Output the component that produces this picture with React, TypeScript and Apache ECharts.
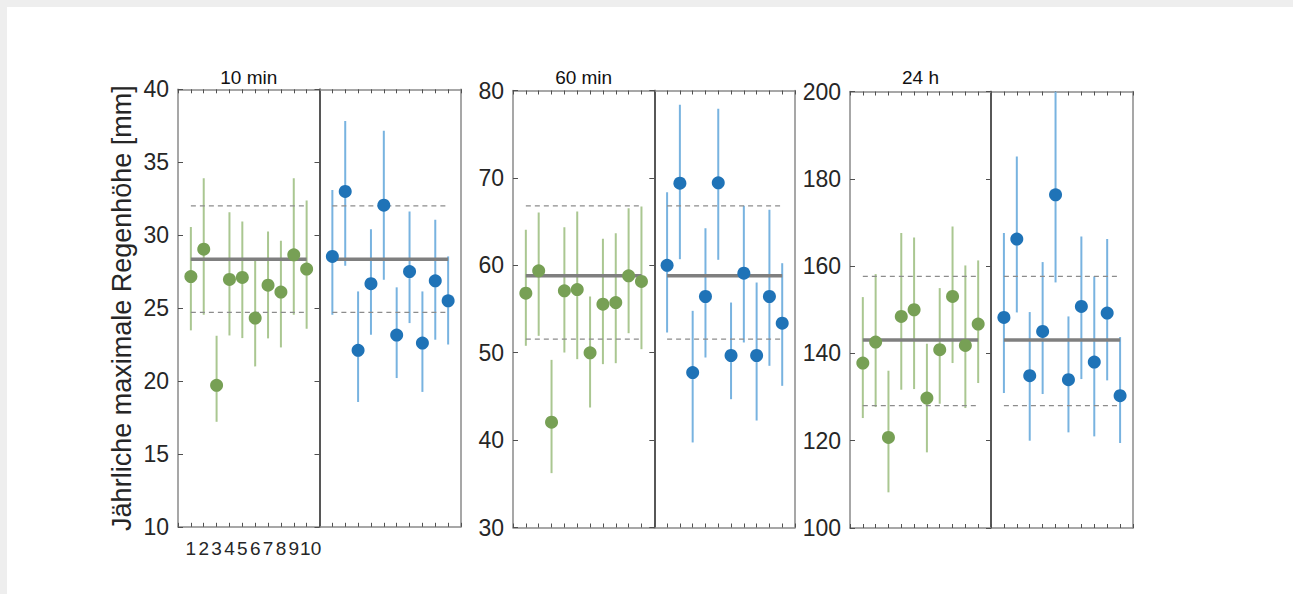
import React, { useEffect, useRef } from "react";
import * as echarts from "echarts";

// ---- data ----
const stationLabels = ["1", "2", "3", "4", "5", "6", "7", "8", "9", "10"];
const leftPositions = [1, 2, 3, 4, 5, 6, 7, 8, 9, 10];
const rightPositions = [12, 13, 14, 15, 16, 17, 18, 19, 20, 21];

const panelTitles = ["10 min", "60 min", "24 h"];
const yMins = [10, 30, 100];
const yMaxs = [40, 80, 200];
const yIntervals = [5, 10, 20];

// mean, upper dashed, lower dashed
const refMean = [28.34, 58.8, 143.05];
const refUpper = [32.0, 66.8, 157.63];
const refLower = [24.7, 51.55, 128.02];

// 10 min
const g10Val = [27.16, 29.04, 19.7, 26.96, 27.1, 24.31, 26.57, 26.1, 28.65, 27.67];
const g10Lo = [23.47, 24.54, 17.2, 23.12, 22.94, 21.0, 22.92, 22.3, 24.54, 23.58];
const g10Hi = [30.55, 33.9, 23.1, 31.57, 30.93, 28.24, 30.25, 29.61, 33.9, 32.37];
const b10Val = [28.54, 33.0, 22.1, 26.67, 32.05, 23.15, 27.5, 22.6, 26.87, 25.5];
const b10Lo = [24.54, 27.9, 18.56, 23.17, 26.94, 20.2, 23.97, 19.25, 22.83, 22.5];
const b10Hi = [33.1, 37.83, 26.14, 30.41, 37.15, 26.42, 31.62, 26.14, 31.05, 28.54];

// 60 min
const g60Val = [56.81, 59.37, 42.05, 57.08, 57.23, 49.98, 55.55, 55.74, 58.8, 58.15];
const g60Lo = [50.79, 51.93, 36.22, 50.02, 49.26, 43.73, 48.69, 48.8, 52.23, 50.4];
const g60Hi = [64.06, 66.04, 49.18, 64.36, 66.16, 56.43, 63.03, 63.68, 66.54, 66.73];
const b60Val = [60.0, 69.4, 47.73, 56.43, 69.44, 49.68, 59.1, 49.68, 56.43, 53.38];
const b60Lo = [52.31, 60.7, 39.73, 49.45, 60.63, 44.68, 51.17, 42.24, 48.5, 46.21];
const b60Hi = [68.37, 78.36, 54.79, 64.25, 77.9, 55.74, 66.8, 58.03, 66.35, 60.24];

// 24 h
const g24Val = [137.79, 142.6, 120.76, 148.47, 150.0, 129.77, 140.84, 153.05, 141.83, 146.72];
const g24Lo = [125.19, 127.71, 108.17, 131.68, 131.83, 117.33, 128.47, 137.79, 127.48, 133.21];
const g24Hi = [152.9, 158.17, 136.03, 167.56, 166.56, 142.21, 154.96, 169.08, 160.15, 161.3];
const b24Val = [148.24, 166.18, 134.89, 145.04, 176.34, 133.97, 150.76, 138.02, 149.24, 130.31];
const b24Lo = [130.92, 149.39, 120.0, 130.69, 156.26, 121.91, 134.12, 120.99, 133.82, 119.47];
const b24Hi = [167.56, 185.11, 149.47, 160.92, 200.0, 148.47, 166.79, 157.63, 166.18, 143.74];

const yTitle = "Jährliche maximale Regenhöhe [mm]";

// ---- styles / layout ----
const FONT = "Liberation Sans, Arial, Helvetica, sans-serif";
const GREEN = "#77a055";
const GREEN_ERR = "#aac791";
const BLUE = "#1f73b7";
const BLUE_ERR = "#78b3e0";
const FRAME = "#8a8a8a";
const DIVIDER = "#4d4d4d";
const TICK = "#505050";
const TXT = "#262626";

const panelLeft = [178, 513, 850];
const panelDiv = [319.5, 654.3, 991];
const panelRight = [461, 795, 1133];
const panelTop = [89.3, 90.5, 91.5];
const panelBottom = [526.8, 527.5, 528];

const groups = [
  { gv: g10Val, gl: g10Lo, gh: g10Hi, bv: b10Val, bl: b10Lo, bh: b10Hi },
  { gv: g60Val, gl: g60Lo, gh: g60Hi, bv: b60Val, bl: b60Lo, bh: b60Hi },
  { gv: g24Val, gl: g24Lo, gh: g24Hi, bv: b24Val, bl: b24Lo, bh: b24Hi },
];

function buildOption() {
  const grid: any[] = [];
  const xAxis: any[] = [];
  const yAxis: any[] = [];
  const series: any[] = [];
  const title: any[] = [];

  for (let p = 0; p < 3; p++) {
    title.push({
      text: panelTitles[p],
      left: (panelLeft[p] + panelDiv[p]) / 2,
      top: 68,
      textAlign: "center",
      padding: 0,
      textStyle: { fontFamily: FONT, fontSize: 19, fontWeight: "normal", color: "#111" },
    });
    for (let h = 0; h < 2; h++) {
      const gi = p * 2 + h;
      const left = h === 0 ? panelLeft[p] : panelDiv[p];
      const right = h === 0 ? panelDiv[p] : panelRight[p];
      grid.push({
        left,
        top: panelTop[p],
        width: right - left,
        height: panelBottom[p] - panelTop[p],
        containLabel: false,
        show: false,
      });
      const xmin = h === 0 ? 0 : 11;
      const xmax = h === 0 ? 11 : 22;
      const showXLabels = p === 0 && h === 0;
      const baseX = {
        type: "value",
        gridIndex: gi,
        min: xmin,
        max: xmax,
        interval: 1,
        splitLine: { show: false },
        axisLine: { show: true, onZero: false, lineStyle: { color: FRAME, width: 1.5 } },
        axisTick: { show: true, inside: true, length: 4, lineStyle: { color: TICK, width: 1 } },
      };
      xAxis.push({
        ...baseX,
        position: "bottom",
        axisLabel: {
          show: showXLabels,
          margin: 12,
          fontFamily: FONT,
          fontSize: 19,
          color: TXT,
          hideOverlap: false,
          showMinLabel: true,
          showMaxLabel: true,
          formatter: (v: number) => {
            const idx = leftPositions.indexOf(Math.round(v));
            if (idx < 0) return "";
            return idx === 9 ? "{w|" + stationLabels[idx] + "}" : stationLabels[idx];
          },
          rich: {
            w: { fontFamily: FONT, fontSize: 19, color: TXT, padding: [0, 0, 0, 8] },
          },
        },
      });
      xAxis.push({ ...baseX, position: "top", axisLabel: { show: false } });

      const baseY = {
        type: "value",
        gridIndex: gi,
        min: yMins[p],
        max: yMaxs[p],
        interval: yIntervals[p],
        splitLine: { show: false },
      };
      yAxis.push({
        ...baseY,
        position: "left",
        axisLine: { show: true, onZero: false, lineStyle: { color: h === 0 ? FRAME : DIVIDER, width: 1.5 } },
        axisTick: { show: h === 0, inside: true, length: 5, lineStyle: { color: TICK, width: 1 } },
        axisLabel: { show: h === 0, margin: 9, fontFamily: FONT, fontSize: 23, color: TXT },
      });
      yAxis.push({
        ...baseY,
        position: "right",
        axisLine: { show: true, onZero: false, lineStyle: { color: h === 0 ? DIVIDER : FRAME, width: 1.5 } },
        axisTick: { show: h === 0, inside: true, length: 5, lineStyle: { color: TICK, width: 1 } },
        axisLabel: { show: false },
      });

      const grp = groups[p];
      const pos = h === 0 ? leftPositions : rightPositions;
      const vals = h === 0 ? grp.gv : grp.bv;
      const los = h === 0 ? grp.gl : grp.bl;
      const his = h === 0 ? grp.gh : grp.bh;
      const col = h === 0 ? GREEN : BLUE;
      const errCol = h === 0 ? GREEN_ERR : BLUE_ERR;

      series.push({
        type: "custom",
        xAxisIndex: gi * 2,
        yAxisIndex: gi * 2,
        clip: true,
        z: 2,
        encode: { x: 0, y: [1, 2] },
        data: pos.map((x, i) => [x, los[i], his[i]]),
        renderItem: (params: any, api: any) => {
          const x = api.value(0);
          const a = api.coord([x, api.value(1)]);
          const b = api.coord([x, api.value(2)]);
          return {
            type: "line",
            shape: { x1: a[0], y1: a[1], x2: b[0], y2: b[1] },
            style: { stroke: errCol, lineWidth: 2 },
          };
        },
      });

      const lineSeries = (val: number, dashed: boolean) => ({
        type: "line",
        xAxisIndex: gi * 2,
        yAxisIndex: gi * 2,
        symbol: "none",
        z: 3,
        lineStyle: dashed
          ? { color: "#8c8c8c", width: 1.2, type: [5, 4] }
          : { color: "#7f7f7f", width: 3.5 },
        data: [
          [pos[0], val],
          [pos[pos.length - 1], val],
        ],
      });
      series.push(lineSeries(refUpper[p], true));
      series.push(lineSeries(refLower[p], true));
      series.push(lineSeries(refMean[p], false));

      series.push({
        type: "scatter",
        xAxisIndex: gi * 2,
        yAxisIndex: gi * 2,
        symbol: "circle",
        symbolSize: 13,
        z: 4,
        itemStyle: { color: col, opacity: 1 },
        data: pos.map((x, i) => [x, vals[i]]),
      });
    }
  }

  return {
    animation: false,
    backgroundColor: "#eeeeee",
    textStyle: { fontFamily: FONT },
    title,
    grid,
    xAxis,
    yAxis,
    series,
    graphic: [
      {
        type: "rect",
        z: -10,
        silent: true,
        shape: { x: 7, y: 7, width: 1293 - 7, height: 594 - 7 },
        style: { fill: "#ffffff" },
      },
      {
        type: "text",
        x: 122,
        y: (panelTop[0] + panelBottom[0]) / 2,
        rotation: Math.PI / 2,
        silent: true,
        style: {
          text: yTitle,
          fontFamily: FONT,
          fontSize: 27,
          fill: TXT,
          textAlign: "center",
          textVerticalAlign: "middle",
        },
      },
    ],
  };
}

export default function App() {
  const ref = useRef<HTMLDivElement>(null);
  useEffect(() => {
    if (!ref.current) return;
    const chart = echarts.init(ref.current, undefined, { renderer: "svg" });
    chart.setOption(buildOption() as any);
    return () => chart.dispose();
  }, []);
  return (
    <div
      ref={ref}
      style={{ position: "fixed", left: 0, top: 0, width: 1293, height: 594 }}
    />
  );
}
